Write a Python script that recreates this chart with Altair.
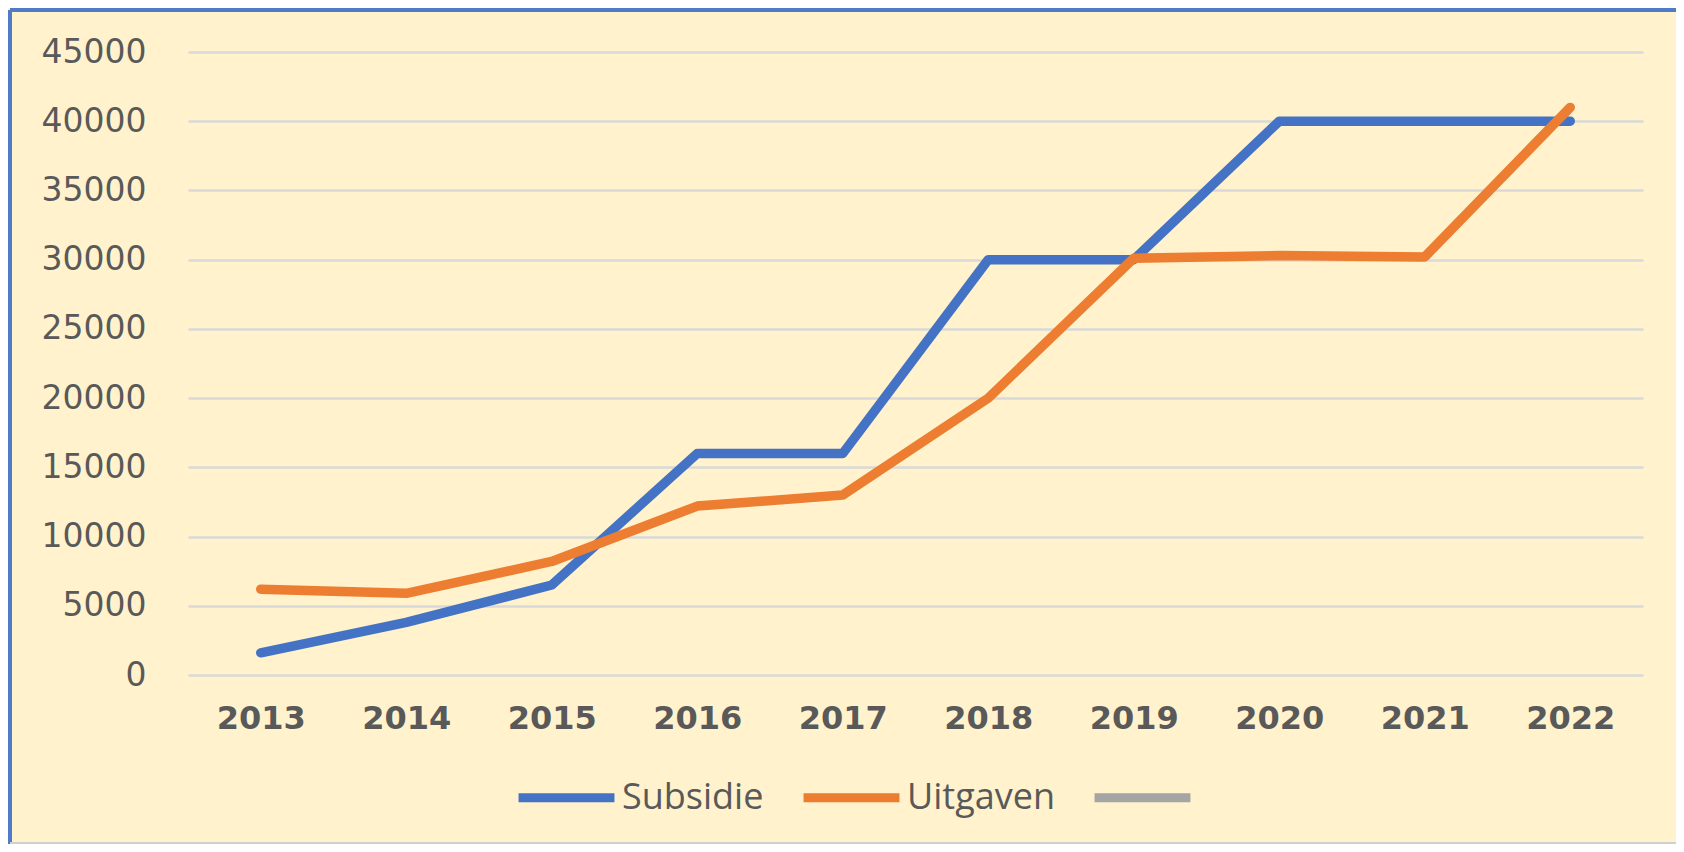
import altair as alt
import pandas as pd

years = ["2013", "2014", "2015", "2016", "2017", "2018", "2019", "2020", "2021", "2022"]
subsidie = [1600, 3800, 6500, 16000, 16000, 30000, 30000, 40000, 40000, 40000]
uitgaven = [6200, 5900, 8200, 12200, 13000, 20000, 30100, 30300, 30200, 41000]
series_names = ["Subsidie", "Uitgaven", " "]
series_colors = ["#4472C4", "#ED7D31", "#A5A5A5"]
y_ticks = [0, 5000, 10000, 15000, 20000, 25000, 30000, 35000, 40000, 45000]

rows = []
for y, s, u in zip(years, subsidie, uitgaven):
    rows.append({"Jaar": y, "Reeks": "Subsidie", "Waarde": s})
    rows.append({"Jaar": y, "Reeks": "Uitgaven", "Waarde": u})
df = pd.DataFrame(rows)

W, H = 1455, 623
PL, PT, PR, PB = 180, 44, 33, 169

lines = alt.Chart(df).mark_line(strokeWidth=9.5, strokeCap="round", strokeJoin="round").encode(
    x=alt.X("Jaar:N", sort=years, title=None,
            axis=alt.Axis(labelAngle=0, labelFont="DejaVu Sans", labelFontWeight="bold",
                          labelFontSize=32, labelColor="#595959", labelPadding=28,
                          ticks=False, tickSize=0, domain=False, grid=False)),
    y=alt.Y("Waarde:Q", title=None,
            scale=alt.Scale(domain=[0, 45000], nice=False),
            axis=alt.Axis(values=y_ticks, format="d", labelFont="DejaVu Sans", labelFontSize=33,
                          labelColor="#595959", labelPadding=42, ticks=False, tickSize=0,
                          domain=False, grid=True, gridColor="#D9D9D9", gridWidth=2.5)),
    color=alt.Color("Reeks:N",
                    scale=alt.Scale(domain=series_names, range=series_colors),
                    legend=alt.Legend(title=None, orient="none", direction="horizontal",
                                      legendX=326, legendY=693, symbolType="stroke",
                                      symbolSize=9200, symbolStrokeWidth=9,
                                      labelFont="Open Sans", labelFontSize=36,
                                      labelColor="#595959", labelOffset=3,
                                      columnPadding=21, padding=0, values=series_names)),
)

border_left = alt.Chart(df).mark_rule(color="#4F7BC8", strokeWidth=3).encode(
    x=alt.value(-PL + 2), y=alt.value(-PT + 2), y2=alt.value(H + PB)
)
border_top = alt.Chart(df).mark_rule(color="#4F7BC8", strokeWidth=3).encode(
    x=alt.value(-PL + 2), x2=alt.value(W + PR), y=alt.value(-PT + 2)
)
border_bottom = alt.Chart(df).mark_rule(color="#D0D0D0", strokeWidth=2).encode(
    x=alt.value(-PL + 2), x2=alt.value(W + PR), y=alt.value(H + PB - 1)
)

chart = alt.layer(lines, border_left, border_top, border_bottom).properties(
    width=W, height=H,
    background="#FFF2CC",
    padding={"left": PL, "top": PT, "right": PR, "bottom": PB},
    autosize=alt.AutoSizeParams(type="none"),
).configure_view(strokeWidth=0)

chart.save("out.html", embed_options={"renderer": "svg", "actions": False})
